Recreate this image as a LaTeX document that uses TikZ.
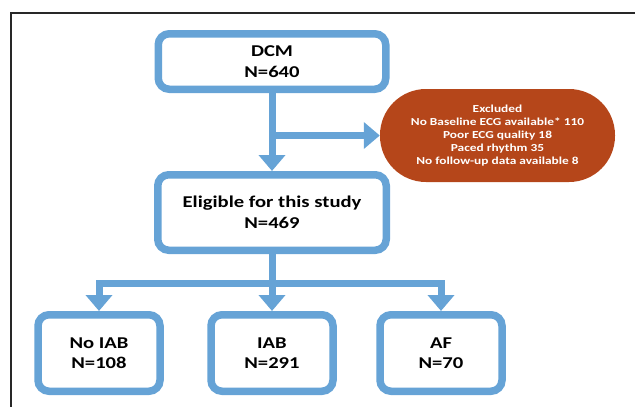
\documentclass[tikz,border=0pt]{standalone}
\usepackage{fontspec}
\setmainfont{Carlito}
\newfontfamily\widefont[FakeStretch=1.25]{Carlito}
\usetikzlibrary{arrows.meta}
\definecolor{boxblue}{RGB}{102,163,214}
\definecolor{exclred}{RGB}{181,70,26}
\definecolor{framegray}{RGB}{40,40,40}
\tikzset{
  flowbox/.style={draw=boxblue, line width=7.5pt, rounded corners=11pt, fill=white,
    align=center, font=\widefont\fontsize{16.5}{20.5}\selectfont\bfseries, inner sep=0pt},
  exclbox/.style={fill=exclred, draw=none, rounded corners=46pt, align=center,
    text=white, font=\widefont\fontsize{10.7}{13}\selectfont\bfseries, inner sep=0pt,
    minimum width=235pt, minimum height=93pt},
  conn/.style={draw=boxblue, line width=7pt, -{Triangle[width=26pt,length=16pt]}},
  plainconn/.style={draw=boxblue, line width=7pt},
}
\begin{document}
\begin{tikzpicture}[x=1pt,y=-1pt]
\useasboundingbox (0,0) rectangle (635,407);
\draw[framegray, line width=1.5pt] (11,407) -- (11,13) -- (635,13);

\node[flowbox, minimum width=227.5pt, minimum height=55.5pt] (dcm) at (272,61.5) {DCM\\N=640};
\node[flowbox, minimum width=228.5pt, minimum height=75.5pt] (elig) at (272,212.5) {Eligible for this study\\N=469};
\node[exclbox] (excl) at (497.5,135.5) {Excluded\\No Baseline ECG available* 110\\Poor ECG quality 18\\Paced rhythm 35\\No follow-up data available 8};
\node[flowbox, minimum width=122pt, minimum height=76.5pt] (noiab) at (99,353) {No IAB\\N=108};
\node[flowbox, minimum width=122pt, minimum height=76.5pt] (iab) at (272,353) {IAB\\N=291};
\node[flowbox, minimum width=122pt, minimum height=76.5pt] (af) at (441,353) {AF\\N=70};

\coordinate (br) at (272,135.5);
\coordinate (jn) at (272,283);
\draw[conn] (dcm.south) -- (elig.north);
\draw[conn] (br) -- (excl.west);
\draw[plainconn] (elig.south) -- (jn);
\draw[conn] ([xshift=3.5pt]jn) -| (noiab.north);
\draw[conn] ([xshift=-3.5pt]jn) -| (af.north);
\draw[conn] (jn) -- (iab.north);
\end{tikzpicture}
\end{document}
